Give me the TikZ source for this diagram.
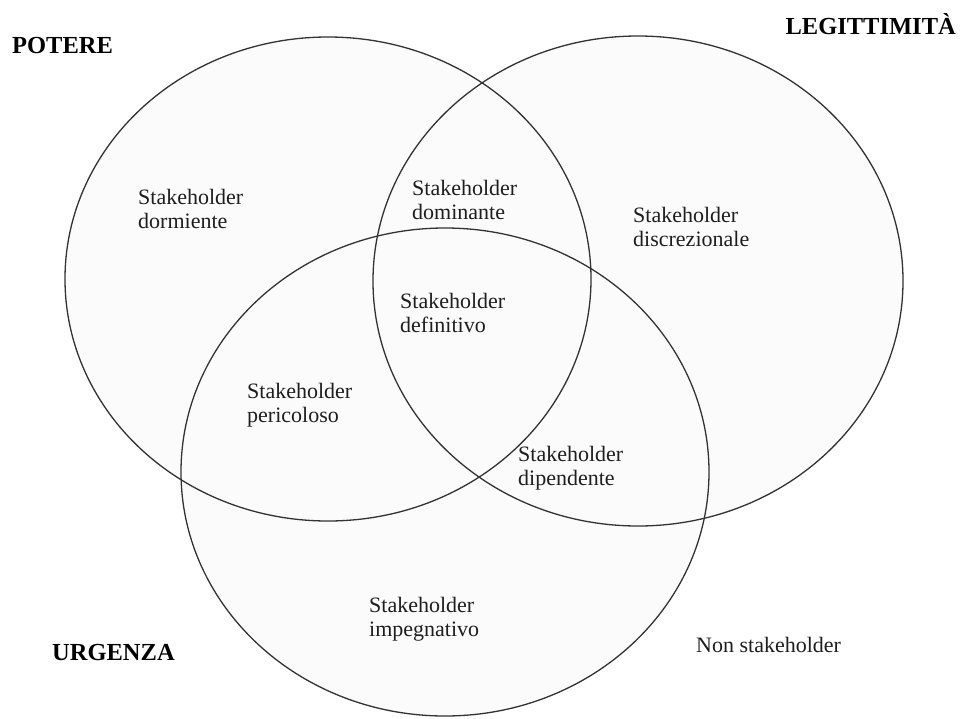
\documentclass[tikz,border=0pt]{standalone}
\usepackage{fontspec}
\setmainfont{Liberation Serif}
\usetikzlibrary{shapes.geometric}
\definecolor{ink}{HTML}{1E1E1E}
\definecolor{rim}{HTML}{333333}
\definecolor{inside}{HTML}{FBFBFB}
\tikzset{
  setring/.style={ellipse, draw=rim, line width=1.3pt, inner sep=0pt,
    minimum width=526pt, minimum height=484pt},
  region/.style={anchor=west, align=left, text=ink, inner sep=0pt,
    font=\fontsize{22}{24}\selectfont},
  settitle/.style={text=black, inner sep=0pt,
    font=\fontsize{24.5}{28}\selectfont\bfseries}
}
\begin{document}
\begin{tikzpicture}[x=1pt,y=-1pt]
  \useasboundingbox (0,0) rectangle (961,718);
  \fill[white] (0,0) rectangle (961,718);
  % faint shading of the three sets
  \fill[inside] (328,279) ellipse [x radius=263pt, y radius=242pt];
  \fill[inside] (638,281) ellipse [x radius=265pt, y radius=245pt];
  \fill[inside] (445,472) ellipse [x radius=264pt, y radius=244pt];
  % the three sets
  \node[setring] (potere) at (328,279) {};
  \node[setring, minimum width=530pt, minimum height=490pt] (legit) at (638,281) {};
  \node[setring, minimum width=528pt, minimum height=488pt] (urg) at (445,472) {};
  % set titles
  \node[settitle, anchor=west] (tP) at (12,46) {POTERE};
  \node[settitle, anchor=east] (tL) at (956,24) {LEGITTIMITÀ};
  \node[settitle, anchor=west] (tU) at (52,652) {URGENZA};
  % regions
  \node[region] (dorm) at (138,209) {Stakeholder\\dormiente};
  \node[region] (domi) at (412,200) {Stakeholder\\dominante};
  \node[region] (disc) at (633,227) {Stakeholder\\discrezionale};
  \node[region] (defi) at (400,313) {Stakeholder\\definitivo};
  \node[region] (peri) at (247,405) {Stakeholder\\pericoloso};
  \node[region] (dipe) at (518,468) {Stakeholder\\dipendente};
  \node[region] (impe) at (369,619) {Stakeholder\\impegnativo};
  \node[region] (nons) at (696,645) {Non stakeholder};
\end{tikzpicture}
\end{document}
